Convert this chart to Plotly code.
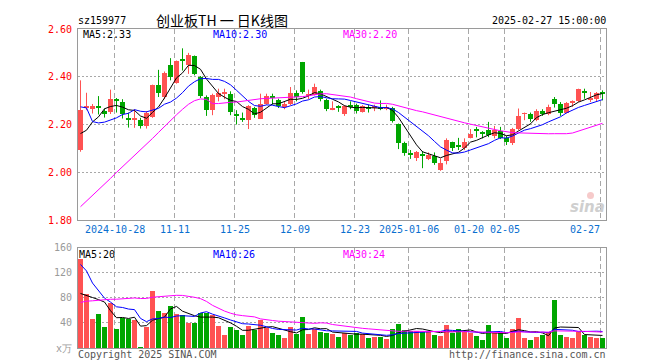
import plotly.graph_objects as go

# ---------------- data ----------------
open_p = [2.093, 2.271, 2.264, 2.279, 2.256, 2.253, 2.308, 2.296, 2.229, 2.218,
          2.218, 2.192, 2.233, 2.364, 2.314, 2.450, 2.374, 2.475, 2.450, 2.489,
          2.398, 2.315, 2.262, 2.315, 2.331, 2.329, 2.246, 2.229, 2.218, 2.271,
          2.225, 2.287, 2.319, 2.304, 2.274, 2.287, 2.333, 2.461, 2.319, 2.325,
          2.342, 2.304, 2.262, 2.276, 2.242, 2.281, 2.281, 2.253, 2.274, 2.271,
          2.274, 2.267, 2.269, 2.204, 2.121, 2.079, 2.058, 2.075, 2.056, 2.069,
          2.010, 2.047, 2.125, 2.114, 2.100, 2.144, 2.183, 2.168, 2.179, 2.153,
          2.172, 2.144, 2.121, 2.181, 2.244, 2.246, 2.218, 2.256, 2.242, 2.308,
          2.287, 2.250, 2.294, 2.297, 2.340, 2.303, 2.308, 2.336]
high_p = [2.385, 2.333, 2.286, 2.319, 2.267, 2.346, 2.311, 2.306, 2.250, 2.264,
          2.228, 2.256, 2.367, 2.429, 2.422, 2.478, 2.468, 2.519, 2.500, 2.489,
          2.403, 2.322, 2.329, 2.350, 2.350, 2.339, 2.260, 2.250, 2.281, 2.274,
          2.329, 2.329, 2.329, 2.308, 2.294, 2.357, 2.343, 2.462, 2.346, 2.371,
          2.346, 2.308, 2.297, 2.281, 2.281, 2.297, 2.287, 2.281, 2.283, 2.283,
          2.301, 2.283, 2.274, 2.204, 2.128, 2.093, 2.089, 2.089, 2.083, 2.083,
          2.058, 2.142, 2.128, 2.144, 2.142, 2.181, 2.190, 2.172, 2.211, 2.194,
          2.190, 2.153, 2.186, 2.267, 2.250, 2.250, 2.264, 2.264, 2.283, 2.315,
          2.294, 2.294, 2.301, 2.350, 2.350, 2.336, 2.336, 2.343]
low_p = [2.086, 2.260, 2.246, 2.242, 2.229, 2.244, 2.250, 2.225, 2.187, 2.186,
         2.183, 2.183, 2.228, 2.315, 2.306, 2.385, 2.371, 2.426, 2.412, 2.406,
         2.311, 2.236, 2.239, 2.297, 2.306, 2.239, 2.200, 2.211, 2.181, 2.228,
         2.224, 2.283, 2.283, 2.269, 2.264, 2.281, 2.297, 2.329, 2.306, 2.322,
         2.297, 2.256, 2.260, 2.253, 2.236, 2.264, 2.246, 2.250, 2.250, 2.256,
         2.260, 2.260, 2.208, 2.097, 2.069, 2.056, 2.047, 2.017, 2.051, 2.031,
         2.006, 2.033, 2.089, 2.093, 2.093, 2.142, 2.146, 2.142, 2.147, 2.142,
         2.139, 2.114, 2.114, 2.176, 2.218, 2.211, 2.214, 2.236, 2.239, 2.271,
         2.236, 2.246, 2.274, 2.294, 2.308, 2.294, 2.297, 2.301]
close_p = [2.260, 2.275, 2.278, 2.272, 2.244, 2.308, 2.297, 2.242, 2.218, 2.229,
           2.192, 2.250, 2.364, 2.333, 2.417, 2.398, 2.464, 2.468, 2.493, 2.412,
           2.319, 2.260, 2.325, 2.333, 2.335, 2.253, 2.236, 2.218, 2.276, 2.239,
           2.287, 2.319, 2.312, 2.278, 2.287, 2.333, 2.315, 2.336, 2.328, 2.357,
           2.306, 2.267, 2.271, 2.272, 2.278, 2.274, 2.256, 2.278, 2.269, 2.275,
           2.265, 2.272, 2.214, 2.121, 2.079, 2.074, 2.086, 2.069, 2.074, 2.037,
           2.037, 2.135, 2.100, 2.108, 2.128, 2.160, 2.172, 2.164, 2.156, 2.176,
           2.144, 2.125, 2.183, 2.236, 2.248, 2.222, 2.256, 2.246, 2.275, 2.284,
           2.248, 2.288, 2.299, 2.350, 2.331, 2.308, 2.333, 2.326]
volume = [142, 87, 47, 55, 35, 73, 31, 49, 47, 45,
          2, 35, 92, 60, 57, 67, 55, 54, 41, 40,
          56, 56, 53, 36, 21, 34, 29, 21, 36, 30,
          46, 33, 25, 21, 17, 34, 23, 50, 23, 31,
          26, 24, 23, 18, 24, 21, 24, 23, 17, 18,
          19, 15, 31, 39, 29, 28, 28, 27, 26, 21,
          20, 37, 25, 31, 26, 25, 20, 14, 37, 24,
          24, 17, 31, 49, 17, 14, 19, 21, 27, 78,
          22, 19, 17, 27, 22, 18, 16.5, 16.5]
# closes / volumes of the 29 sessions before the first visible one (for the moving averages)
pre_close = [1.58, 1.57, 1.56, 1.55, 1.56, 1.54, 1.53, 1.52, 1.54, 1.53,
             1.55, 1.56, 1.58, 1.64, 1.68, 1.74, 1.78, 1.86, 1.96, 2.10,
             2.32, 2.85, 2.33, 2.21, 2.22, 2.205, 2.103, 2.167, 2.075]
pre_volume = [30, 28, 27, 29, 32, 30, 28, 26, 27, 29,
              31, 33, 30, 32, 45, 41, 60, 80, 90, 120,
              190, 240, 180, 150, 136, 106, 60, 72, 54]

tick_pos = [6, 16, 26, 36, 46, 55, 65, 71, 87]
tick_labels = ["2024-10-28", "11-11", "11-25", "12-09", "12-23",
               "2025-01-06", "01-20", "02-05", "02-27"]
price_ticks = [1.80, 2.00, 2.20, 2.40, 2.60]
vol_ticks = [0, 40, 80, 120, 160]
vol_tick_text = ["x万", "40", "80", "120", "160"]

# ---------------- helpers ----------------
n = len(close_p)
idx = list(range(n))


def moving_avg(pre, vals, w):
    full = list(pre) + list(vals)
    off = len(pre)
    return [sum(full[k - w + 1:k + 1]) / w for k in range(off, off + len(vals))]


RED = "#ff5252"
GREEN = "#00a600"
up = [c >= o for o, c in zip(open_p, close_p)]
colors = [RED if u else GREEN for u in up]
body_base = [min(o, c) for o, c in zip(open_p, close_p)]
body_h = [max(abs(c - o), 0.004) for o, c in zip(open_p, close_p)]

MONO = "DejaVu Sans Mono"
W, H = 660, 360
L, R, T, B = 70, 62, 21, 20
PW, PH = W - L - R, H - T - B


def px(xp):
    return (xp - L) / PW


def py(yp):
    return (H - B - yp) / PH


fig = go.Figure()

# candle wicks
for sel, col in ((True, RED), (False, GREEN)):
    xs, ys = [], []
    for i in idx:
        if up[i] == sel:
            xs += [i, i, None]
            ys += [low_p[i], high_p[i], None]
    fig.add_trace(go.Scatter(x=xs, y=ys, mode="lines", line=dict(color=col, width=1),
                             xaxis="x", yaxis="y", hoverinfo="skip"))
# candle bodies
fig.add_trace(go.Bar(x=idx, y=body_h, base=body_base, width=0.83,
                     marker=dict(color=colors, line=dict(width=0)),
                     xaxis="x", yaxis="y", hoverinfo="skip"))
# price MAs
for w, col in ((5, "black"), (10, "#0000ff"), (30, "#ff00ff")):
    fig.add_trace(go.Scatter(x=idx, y=moving_avg(pre_close, close_p, w), mode="lines",
                             line=dict(color=col, width=1), xaxis="x", yaxis="y",
                             hoverinfo="skip"))
# volume bars
fig.add_trace(go.Bar(x=idx, y=volume, width=0.83,
                     marker=dict(color=colors, line=dict(width=0)),
                     xaxis="x2", yaxis="y2", hoverinfo="skip"))
for w, col in ((5, "black"), (10, "#0000ff"), (30, "#ff00ff")):
    fig.add_trace(go.Scatter(x=idx, y=moving_avg(pre_volume, volume, w), mode="lines",
                             line=dict(color=col, width=1), xaxis="x2", yaxis="y2",
                             hoverinfo="skip"))

grid_x = [p - 0.3 for p in tick_pos]
xr = [-(72.5 - L) / 6.0, (W - R - 72.5) / 6.0]
frame = "#9a9a9a"
common_x = dict(range=xr, tickvals=grid_x, showticklabels=False, ticks="",
                showgrid=True, gridcolor="#a8a8a8", griddash="5px,3px", gridwidth=1,
                showline=True, mirror=True, linecolor=frame, linewidth=1, zeroline=False,
                fixedrange=True)
vol_top = (H - B - 239.5) / PH
price_bottom = (H - B - 212) / PH

fig.update_layout(
    width=W, height=H, margin=dict(l=L, r=R, t=T, b=B, autoexpand=False),
    paper_bgcolor="white", plot_bgcolor="white", showlegend=False,
    hovermode=False, barmode="overlay", bargap=0,
    font=dict(family=MONO, size=10, color="black"),
    xaxis=dict(domain=[0, 1], anchor="y", **common_x),
    xaxis2=dict(domain=[0, 1], anchor="y2", matches="x", **common_x),
    yaxis=dict(domain=[price_bottom, 1], range=[1.8, 2.6], tickvals=price_ticks,
               ticktext=["%.2f" % v for v in price_ticks],
               tickfont=dict(family=MONO, size=10, color="#ff0000"),
               ticks="outside", ticklen=3, tickcolor="rgba(0,0,0,0)",
               showgrid=True, gridcolor="#a8a8a8", griddash="2px,2px", gridwidth=1,
               showline=True, mirror=True, linecolor=frame, linewidth=1, zeroline=False),
    yaxis2=dict(domain=[0, vol_top], range=[0, 160], tickvals=vol_ticks,
                ticktext=vol_tick_text,
                tickfont=dict(family=MONO, size=10, color="#9a9a9a"),
                ticks="outside", ticklen=3, tickcolor="rgba(0,0,0,0)",
                showgrid=True, gridcolor="#a8a8a8", griddash="2px,2px", gridwidth=1,
                showline=True, mirror=True, linecolor=frame, linewidth=1, zeroline=False),
)

ann = []


def text(t, xp, yp, anchor="left", color="black", size=10, family=MONO):
    ann.append(dict(text=t, x=px(xp), y=py(yp),
                    xref="paper", yref="paper", xanchor=anchor, yanchor="middle",
                    showarrow=False, font=dict(family=family, size=size, color=color),
                    borderpad=0))


text("sz159977", 68.5, 12.5)
text("创业板TH 一 日K线图", 214, 12, anchor="center", size=14,
     family="Noto Sans CJK SC")
text("2025-02-27 15:00:00", 599, 12.5, anchor="right")
text("MA5:2.33", 74, 26.5)
text("MA10:2.30", 204, 26.5, color="#0000ff")
text("MA30:2.20", 333.5, 26.5, color="#ff00ff")
text("MA5:20", 69.5, 246)
text("MA10:26", 204, 246, color="#0000ff")
text("MA30:24", 333.5, 246, color="#ff00ff")
for k, (g, lab) in enumerate(zip(grid_x, tick_labels)):
    last = k == len(tick_labels) - 1
    ann.append(dict(text=lab, x=g, y=py(221.5), xref="x", yref="paper",
                    xanchor="right" if last else "center", yanchor="middle",
                    showarrow=False, font=dict(family=MONO, size=10, color="#0a6fd0"),
                    borderpad=0))
text("Copyright 2025 SINA.COM", 68.5, 346, color="#555555")
text("http://finance.sina.com.cn", 599, 346, anchor="right", color="#555555")
text("<b><i>sina</i></b>", 598, 199, anchor="right", color="#cfcfcf", size=15,
     family="DejaVu Sans")
fig.update_layout(annotations=ann)

# small eye of the watermark logo
fig.add_shape(type="circle", xref="paper", yref="paper",
              x0=px(579), x1=px(586), y0=py(191), y1=py(184),
              fillcolor="#f6caca", line=dict(width=0), layer="below")

fig.write_html("out.html")
